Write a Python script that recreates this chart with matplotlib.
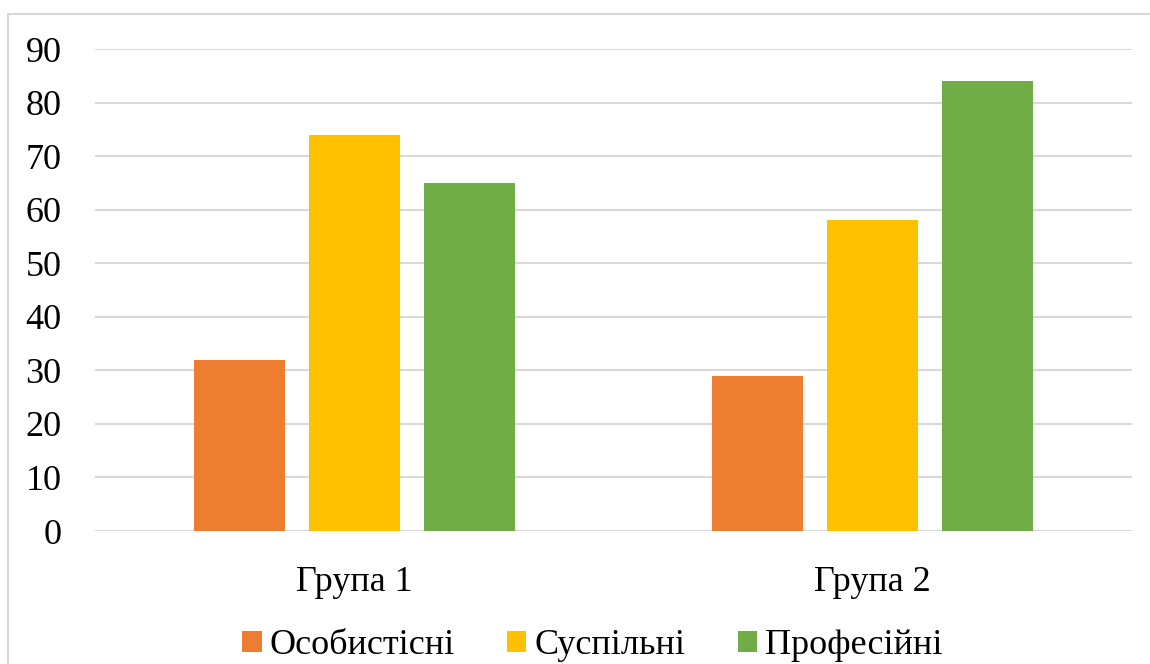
import matplotlib.pyplot as plt
import numpy as np
from matplotlib.patches import Rectangle

plt.rcParams['font.family'] = ['Liberation Serif', 'DejaVu Serif']

# Data
groups = ['Група 1', 'Група 2']
series = ['Особистісні', 'Суспільні', 'Професійні']
values = {
    'Особистісні': [32, 29],
    'Суспільні': [74, 58],
    'Професійні': [65, 84],
}
colors = ['#ED7D31', '#FFC000', '#70AD47']

fig = plt.figure(figsize=(11.5, 6.64), dpi=100)
ax = fig.add_axes([0.0826, 0.2003, 0.9017, 0.7259])

# chart area border
fig.patches.append(Rectangle((8 / 1150, -0.1), 1.2, 1.1 - 14 / 664, transform=fig.transFigure,
                             fill=False, edgecolor='#D9D9D9', linewidth=1.5))

x = np.arange(len(groups))
width = 0.1755
step = 0.222
for i, (name, c) in enumerate(zip(series, colors)):
    ax.bar(x + (i - 1) * step, values[name], width, color=c, label=name, zorder=3)

ax.set_xlim(-0.5, 1.5)
ax.set_ylim(0, 90)
ax.set_yticks(range(0, 91, 10))
ax.set_xticks(x)
ax.set_xticklabels(groups)
ax.tick_params(axis='y', length=0, pad=24, labelsize=26)
ax.tick_params(axis='x', length=0, pad=25, labelsize=26)
ax.grid(axis='y', color='#D9D9D9', linewidth=1.5, zorder=0)
for s in ax.spines.values():
    s.set_visible(False)

fig.legend(loc='lower center', bbox_to_anchor=(0.515, -0.046), ncol=3, frameon=False,
           fontsize=26, handlelength=0.53, handleheight=0.53, handletextpad=0.22,
           columnspacing=1.45)

fig.savefig('out.png', dpi=100)
